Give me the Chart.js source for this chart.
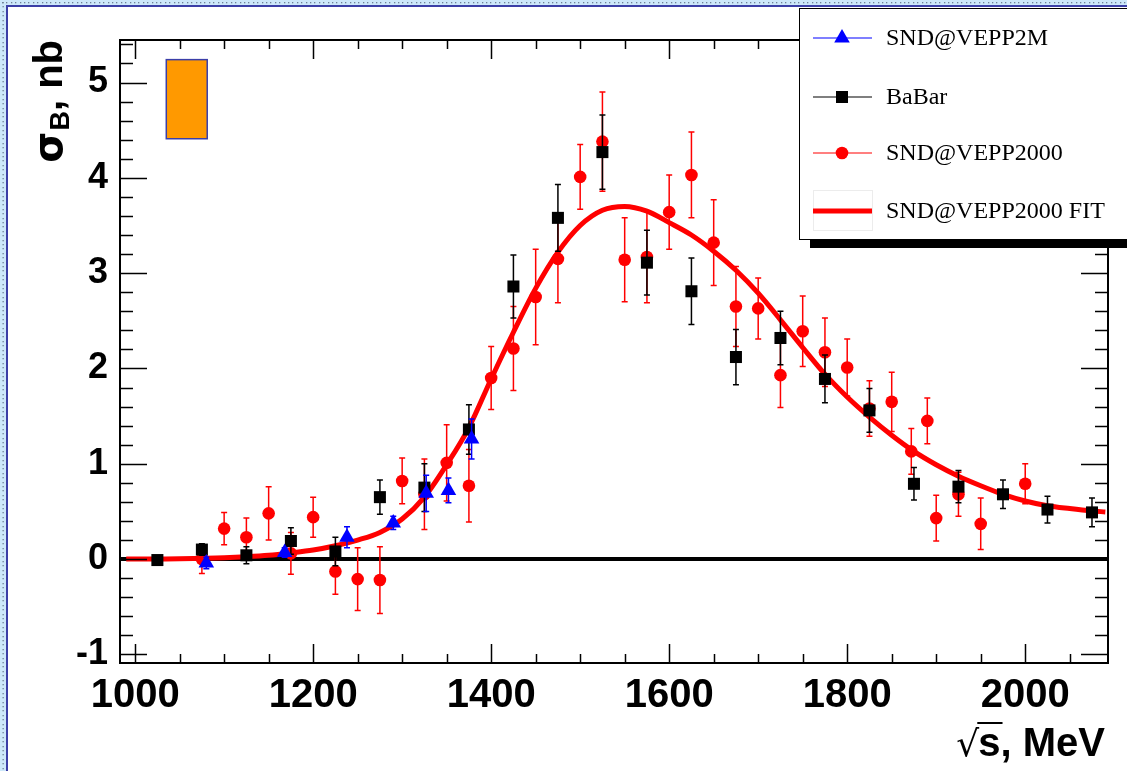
<!DOCTYPE html>
<html>
<head>
<meta charset="utf-8">
<script src="https://cdn.jsdelivr.net/npm/chart.js@4/dist/chart.umd.min.js"></script>
<style>
  html, body { margin: 0; padding: 0; background: #fff; }
  #wrap { width: 1127px; height: 771px; position: relative; }
  canvas { display: block; }
</style>
</head>
<body>
<div id="wrap"><canvas id="c" width="1127" height="771"></canvas></div>
<script>
// ---- e+e- cross section measurements, sigma_B in nb versus sqrt(s) in MeV ----

// SND@VEPP2M
const vepp2mE     = [1080, 1168, 1238, 1290, 1327, 1352, 1378];
const vepp2mSigma = [-0.04, 0.07, 0.23, 0.38, 0.69, 0.72, 1.26];
const vepp2mErr   = [0.06, 0.05, 0.11, 0.07, 0.19, 0.13, 0.21];

// BaBar
const babarE     = [1025, 1075, 1125, 1175, 1225, 1275, 1325, 1375, 1425, 1475, 1525,
                    1575, 1625, 1675, 1725, 1775, 1825, 1875, 1925, 1975, 2025, 2075];
const babarSigma = [-0.01, 0.10, 0.04, 0.19, 0.08, 0.65, 0.75, 1.36, 2.86, 3.58, 4.27,
                    3.11, 2.81, 2.12, 2.32, 1.89, 1.56, 0.79, 0.76, 0.68, 0.52, 0.49];
const babarErr   = [0.04, 0.06, 0.09, 0.14, 0.15, 0.18, 0.25, 0.26, 0.33, 0.35, 0.39,
                    0.34, 0.35, 0.29, 0.28, 0.25, 0.23, 0.17, 0.17, 0.15, 0.14, 0.15];

// SND@VEPP2000
const vepp2000E     = [1075, 1100, 1125, 1150, 1175, 1200, 1225, 1250, 1275, 1300,
                       1325, 1350, 1375, 1400, 1425, 1450, 1475, 1500, 1525, 1550,
                       1575, 1600, 1625, 1650, 1675, 1700, 1725, 1750, 1775, 1800,
                       1825, 1850, 1872, 1890, 1900, 1925, 1950, 2000];
const vepp2000Sigma = [0.00, 0.32, 0.23, 0.48, 0.06, 0.44, -0.13, -0.21, -0.22, 0.82,
                       0.68, 1.01, 0.77, 1.90, 2.21, 2.75, 3.15, 4.01, 4.38, 3.14,
                       3.17, 3.64, 4.03, 3.32, 2.65, 2.63, 1.93, 2.39, 2.17, 2.01,
                       1.58, 1.65, 1.13, 1.45, 0.43, 0.68, 0.37, 0.79];
const vepp2000Err   = [0.15, 0.17, 0.20, 0.28, 0.22, 0.21, 0.24, 0.33, 0.35, 0.24,
                       0.37, 0.40, 0.38, 0.33, 0.44, 0.50, 0.46, 0.34, 0.52, 0.44,
                       0.48, 0.39, 0.45, 0.45, 0.42, 0.32, 0.34, 0.37, 0.36, 0.30,
                       0.29, 0.31, 0.24, 0.24, 0.24, 0.23, 0.27, 0.21];

// SND@VEPP2000 fit curve, sampled
const fitE     = [990, 1000, 1050, 1100, 1125, 1150, 1175, 1200, 1225, 1250, 1275, 1300,
                  1325, 1350, 1375, 1400, 1425, 1450, 1475, 1500, 1525, 1550, 1575,
                  1600, 1625, 1650, 1675, 1700, 1725, 1750, 1775, 1800, 1825, 1850,
                  1875, 1900, 1925, 1950, 1975, 2000, 2025, 2050, 2075, 2090];
const fitSigma = [0.0, 0.0, 0.005, 0.015, 0.025, 0.04, 0.065, 0.095, 0.14, 0.20, 0.28, 0.42,
                  0.65, 0.99, 1.38, 1.89, 2.38, 2.84, 3.22, 3.50, 3.66, 3.70, 3.65,
                  3.53, 3.40, 3.23, 3.03, 2.79, 2.51, 2.22, 1.94, 1.70, 1.49, 1.30,
                  1.13, 0.99, 0.87, 0.77, 0.68, 0.61, 0.56, 0.53, 0.505, 0.495];

// Systematic-uncertainty box
const sysBoxE     = [1035, 1081];
const sysBoxSigma = [4.41, 5.24];

// Axis labels
const xTickLabels = [1000, 1200, 1400, 1600, 1800, 2000];
const yTickLabels = [-1, 0, 1, 2, 3, 4, 5];

const xy = (xs, ys) => xs.map((x, i) => ({ x: x, y: ys[i] }));
const errorsByDataset = [vepp2mErr, babarErr, vepp2000Err, null];

const SANS = '"Liberation Sans", Arial, Helvetica, sans-serif';
const SERIF = '"Liberation Serif", "Times New Roman", serif';

// light-blue dotted page frame on the left and top edges
const pageFrame = {
  id: 'pageFrame',
  beforeDraw(chart) {
    const ctx = chart.ctx, W = chart.width, H = chart.height;
    ctx.save();
    ctx.fillStyle = '#fff';
    ctx.fillRect(0, 0, W, H);
    ctx.fillStyle = '#cde8fa';
    ctx.fillRect(0, 0, W, 5);
    ctx.fillRect(0, 0, 6, H);
    ctx.fillStyle = '#6f8296';
    for (let x = 2; x < W; x += 4.4) ctx.fillRect(Math.round(x), 2, 1.3, 1.3);
    for (let y = 2; y < H; y += 4.4) ctx.fillRect(2.5, Math.round(y), 1.3, 1.3);
    ctx.fillStyle = '#3b3fa6';
    ctx.fillRect(6, 5, W - 6, 2);
    ctx.fillRect(6, 5, 2, H - 5);
    ctx.restore();
  }
};

// zero line and systematic box beneath the data
const underlay = {
  id: 'underlay',
  beforeDatasetsDraw(chart) {
    const { ctx, chartArea: a, scales: { x, y } } = chart;
    ctx.save();
    const x0 = x.getPixelForValue(sysBoxE[0]), x1 = x.getPixelForValue(sysBoxE[1]);
    const y0 = y.getPixelForValue(sysBoxSigma[1]), y1 = y.getPixelForValue(sysBoxSigma[0]);
    ctx.fillStyle = '#ff9900';
    ctx.fillRect(x0, y0, x1 - x0, y1 - y0);
    ctx.strokeStyle = '#3a3ea8';
    ctx.lineWidth = 1.5;
    ctx.strokeRect(x0, y0, x1 - x0, y1 - y0);
    const yz = y.getPixelForValue(0);
    ctx.strokeStyle = '#000';
    ctx.lineWidth = 4;
    ctx.beginPath();
    ctx.moveTo(a.left, yz);
    ctx.lineTo(a.right, yz);
    ctx.stroke();
    ctx.restore();
  }
};

// vertical error bars with short caps, drawn under each dataset's markers
const errorBars = {
  id: 'errorBars',
  beforeDatasetDraw(chart, args) {
    const errs = errorsByDataset[args.index];
    if (!errs) return;
    const ds = chart.data.datasets[args.index];
    const { ctx, scales: { x, y } } = chart;
    ctx.save();
    ctx.beginPath();
    ctx.rect(chart.chartArea.left, chart.chartArea.top, chart.chartArea.width, chart.chartArea.height);
    ctx.clip();
    ctx.strokeStyle = ds.borderColor;
    ctx.lineWidth = 1.5;
    ctx.beginPath();
    ds.data.forEach((p, i) => {
      const px = x.getPixelForValue(p.x);
      const yt = y.getPixelForValue(p.y + errs[i]);
      const yb = y.getPixelForValue(p.y - errs[i]);
      ctx.moveTo(px, yt); ctx.lineTo(px, yb);
      ctx.moveTo(px - 3, yt); ctx.lineTo(px + 3, yt);
      ctx.moveTo(px - 3, yb); ctx.lineTo(px + 3, yb);
    });
    ctx.stroke();
    ctx.restore();
  }
};

// axis frame with inward ticks on all four sides
const axisFrame = {
  id: 'axisFrame',
  afterDatasetsDraw(chart) {
    const { ctx, chartArea: a, scales: { x, y } } = chart;
    ctx.save();
    ctx.strokeStyle = '#000';
    ctx.lineWidth = 1.5;
    ctx.beginPath();
    for (let v = 1000; v <= x.max; v += 50) {
      const px = Math.round(x.getPixelForValue(v)) + 0.5;
      const len = (v % 200 === 0) ? 19 : 9;
      ctx.moveTo(px, a.bottom); ctx.lineTo(px, a.bottom - len);
      ctx.moveTo(px, a.top); ctx.lineTo(px, a.top + len);
    }
    for (let k = -5; k * 0.2 <= y.max; k++) {
      const py = Math.round(y.getPixelForValue(k * 0.2)) + 0.5;
      const len = (k % 5 === 0) ? 27 : 13;
      ctx.moveTo(a.left, py); ctx.lineTo(a.left + len, py);
      ctx.moveTo(a.right, py); ctx.lineTo(a.right - len, py);
    }
    ctx.stroke();
    ctx.lineWidth = 2;
    ctx.strokeRect(a.left, a.top, a.right - a.left, a.bottom - a.top);
    ctx.restore();
  }
};

function marker(ctx, style, r, x, y, color) {
  ctx.fillStyle = color;
  ctx.beginPath();
  if (style === 'triangle') {
    ctx.moveTo(x, y - r);
    ctx.lineTo(x + r * 0.866, y + r / 2);
    ctx.lineTo(x - r * 0.866, y + r / 2);
    ctx.closePath();
  } else if (style === 'rect') {
    const s = r * Math.SQRT1_2;
    ctx.rect(x - s, y - s, 2 * s, 2 * s);
  } else {
    ctx.arc(x, y, r, 0, Math.PI * 2);
  }
  ctx.fill();
}

// legend box with drop shadow in the upper right
const legendBox = {
  id: 'legendBox',
  afterDraw(chart) {
    const ctx = chart.ctx;
    const ds = chart.data.datasets;
    const rows = [38, 97, 153, 211];
    ctx.save();
    ctx.fillStyle = '#000';
    ctx.fillRect(810, 239, 400, 9);
    ctx.fillStyle = '#fff';
    ctx.fillRect(799.5, 8.5, 400, 231);
    ctx.strokeStyle = '#000';
    ctx.lineWidth = 1;
    ctx.strokeRect(799.5, 8.5, 400, 231);
    ds.forEach((d, i) => {
      const ry = rows[i];
      if (d.pointRadius > 0) {
        ctx.strokeStyle = d.borderColor;
        ctx.lineWidth = 1.2;
        ctx.beginPath(); ctx.moveTo(813, ry); ctx.lineTo(872, ry); ctx.stroke();
        marker(ctx, d.pointStyle, d.pointRadius, 842, ry, d.backgroundColor);
      } else {
        ctx.strokeStyle = '#ececec';
        ctx.lineWidth = 1;
        ctx.strokeRect(813.5, ry - 20.5, 59, 40);
        ctx.strokeStyle = d.borderColor;
        ctx.lineWidth = d.borderWidth;
        ctx.beginPath(); ctx.moveTo(813, ry); ctx.lineTo(872, ry); ctx.stroke();
      }
      ctx.fillStyle = '#000';
      ctx.font = '24px ' + SERIF;
      ctx.textAlign = 'left';
      ctx.textBaseline = 'middle';
      ctx.fillText(d.label, 886, ry + 1);
    });
    ctx.restore();
  }
};

// axis titles: sigma_B, nb (rotated) and sqrt(s), MeV
const axisTitles = {
  id: 'axisTitles',
  afterDraw(chart) {
    const ctx = chart.ctx;
    ctx.save();
    ctx.fillStyle = '#000';
    ctx.strokeStyle = '#000';
    // x title
    ctx.textBaseline = 'alphabetic';
    ctx.textAlign = 'right';
    ctx.font = 'bold 40px ' + SANS;
    const rest = 's, MeV';
    const xr = 1105, yb = 756;
    ctx.fillText(rest, xr, yb);
    const wRest = ctx.measureText(rest).width;
    const wS = ctx.measureText('s').width;
    const sLeft = xr - wRest;
    ctx.font = '36px "DejaVu Sans", sans-serif';
    ctx.fillText('\u221A', sLeft + 1, yb);
    ctx.lineWidth = 2;
    ctx.beginPath(); ctx.moveTo(sLeft - 1, yb - 33); ctx.lineTo(sLeft + wS + 2, yb - 33); ctx.stroke();
    // y title, rotated
    ctx.translate(62, 40);
    ctx.rotate(-Math.PI / 2);
    ctx.textAlign = 'left';
    ctx.font = 'bold 40px ' + SANS;
    const tail = ', nb';
    const wTail = ctx.measureText(tail).width;
    ctx.font = 'bold 27px ' + SANS;
    const wB = ctx.measureText('B').width;
    ctx.font = 'bold 40px "DejaVu Sans", sans-serif';
    const wSig = ctx.measureText('\u03C3').width;
    let start = -(wTail + wB + wSig + 1);
    ctx.fillText('\u03C3', start, 0);
    ctx.font = 'bold 27px ' + SANS;
    ctx.fillText('B', start + wSig + 1, 7);
    ctx.font = 'bold 40px ' + SANS;
    ctx.fillText(tail, start + wSig + wB + 1, 0);
    ctx.restore();
  }
};

new Chart(document.getElementById('c'), {
  type: 'scatter',
  data: {
    datasets: [
      { label: 'SND@VEPP2M', data: xy(vepp2mE, vepp2mSigma), pointStyle: 'triangle',
        pointRadius: 9, backgroundColor: '#0000ff', borderColor: '#0000ff', borderWidth: 0,
        showLine: false, order: 0 },
      { label: 'BaBar', data: xy(babarE, babarSigma), pointStyle: 'rect',
        pointRadius: 8.5, backgroundColor: '#000000', borderColor: '#000000', borderWidth: 0,
        showLine: false, order: 1 },
      { label: 'SND@VEPP2000', data: xy(vepp2000E, vepp2000Sigma), pointStyle: 'circle',
        pointRadius: 6.3, backgroundColor: '#ff0000', borderColor: '#ff0000', borderWidth: 0,
        showLine: false, order: 2 },
      { label: 'SND@VEPP2000 FIT', data: xy(fitE, fitSigma), type: 'line',
        pointRadius: 0, borderColor: '#ff0000', backgroundColor: '#ff0000', borderWidth: 5,
        cubicInterpolationMode: 'monotone', fill: false, order: 3 }
    ]
  },
  options: {
    responsive: false,
    animation: false,
    devicePixelRatio: 1,
    layout: { padding: { left: 0, right: 19, top: 40, bottom: 0 } },
    plugins: { legend: { display: false }, tooltip: { enabled: false } },
    scales: {
      x: {
        type: 'linear', min: 983, max: 2093,
        afterBuildTicks: s => { s.ticks = xTickLabels.map(v => ({ value: v })); },
        afterFit: s => { s.height = 108; },
        grid: { display: false, drawTicks: false },
        border: { display: false },
        ticks: { color: '#000', padding: 9, maxRotation: 0, autoSkip: false,
                 callback: v => String(v),
                 font: { family: SANS, size: 40, weight: 'bold' } }
      },
      y: {
        type: 'linear', min: -1.09, max: 5.446,
        afterBuildTicks: s => { s.ticks = yTickLabels.map(v => ({ value: v })); },
        afterFit: s => { s.width = 120; },
        grid: { display: false, drawTicks: false },
        border: { display: false },
        ticks: { color: '#000', padding: 12, autoSkip: false,
                 callback: v => String(v),
                 font: { family: SANS, size: 36, weight: 'bold' } }
      }
    }
  },
  plugins: [pageFrame, underlay, errorBars, axisFrame, legendBox, axisTitles]
});
</script>
</body>
</html>
